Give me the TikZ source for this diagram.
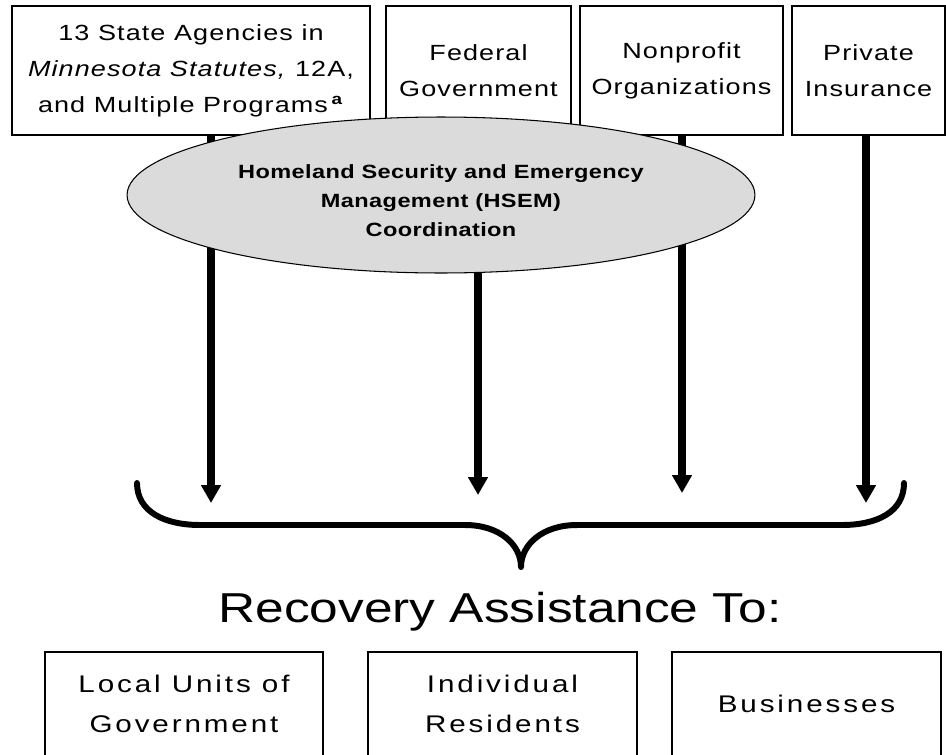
\documentclass[tikz,border=0pt]{standalone}
\usepackage{fontspec}
\setmainfont{Liberation Sans}[FakeStretch=1.23]
\usetikzlibrary{arrows.meta,shapes.geometric}
\definecolor{hsemgray}{gray}{0.86}

\begin{document}
\begin{tikzpicture}[x=0.02cm,y=-0.02cm,
  srcbox/.style={draw,line width=1.1pt,minimum height=2.58cm,inner sep=0pt,align=center,
    font=\fontsize{12.5}{20.5}\selectfont\addfontfeatures{LetterSpace=5}},
  aidbox/.style={draw,line width=1.1pt,minimum height=2.08cm,inner sep=0pt,align=center,
    font=\fontsize{13.7}{22.8}\selectfont\addfontfeatures{LetterSpace=12}},
  flow/.style={line width=4pt,-{Triangle[width=10.8pt,length=10.2pt]}},
  hsem/.style={ellipse,draw,line width=0.6pt,fill=hsemgray,inner sep=0pt,
    minimum width=12.56cm,minimum height=3.12cm}]
\useasboundingbox (0,0) rectangle (946,754);

\node[srcbox,minimum width=7.16cm] (state) at (191,70.5)
  {13 State Agencies in\\ \textit{Minnesota Statutes,} 12A,\\ and Multiple Programs\,\textsuperscript{\textbf{a}}};
\node[srcbox,minimum width=3.70cm] (fed) at (478.5,70.5) {Federal\\ Government};
\node[srcbox,minimum width=4.06cm] (npo) at (681.5,70.5) {Nonprofit\\ Organizations};
\node[srcbox,minimum width=3.06cm] (ins) at (868.5,70.5) {Private\\ Insurance};

\coordinate (tstate) at (211,503);
\coordinate (tfed) at (478,495);
\coordinate (tnpo) at (682,493);
\coordinate (tins) at (866,503);
\draw[flow] (state.south -| tstate) -- (tstate);
\draw[flow] (fed.south -| tfed) -- (tfed);
\draw[flow] (npo.south -| tnpo) -- (tnpo);
\draw[flow] (ins.south -| tins) -- (tins);

\node[hsem] (hsem) at (441,195) {};
\node[font=\bfseries\fontsize{10.9}{16.5}\selectfont\addfontfeatures{LetterSpace=2},align=center]
  (hsemtext) at (441,201) {Homeland Security and Emergency\\ Management (HSEM)\\ Coordination};

\draw[line width=3.4pt,line join=round,line cap=round]
  (137,483) .. controls (137,512) and (165,525) .. (200,525) -- (465,525)
  .. controls (500,525) and (521,545) .. (521,567)
  .. controls (521,545) and (542,525) .. (577,525) -- (842,525)
  .. controls (877,525) and (904,512) .. (904,483);

\node[font=\fontsize{23.8}{28}\selectfont,anchor=base] (title) at (500,622) {Recovery Assistance To:};

\node[aidbox,minimum width=5.56cm] (local) at (184,704) {Local Units of\\ Government};
\node[aidbox,minimum width=5.38cm] (resid) at (502.5,704) {Individual\\ Residents};
\node[aidbox,minimum width=5.38cm] (biz) at (806.5,704) {Businesses};
\end{tikzpicture}
\end{document}
